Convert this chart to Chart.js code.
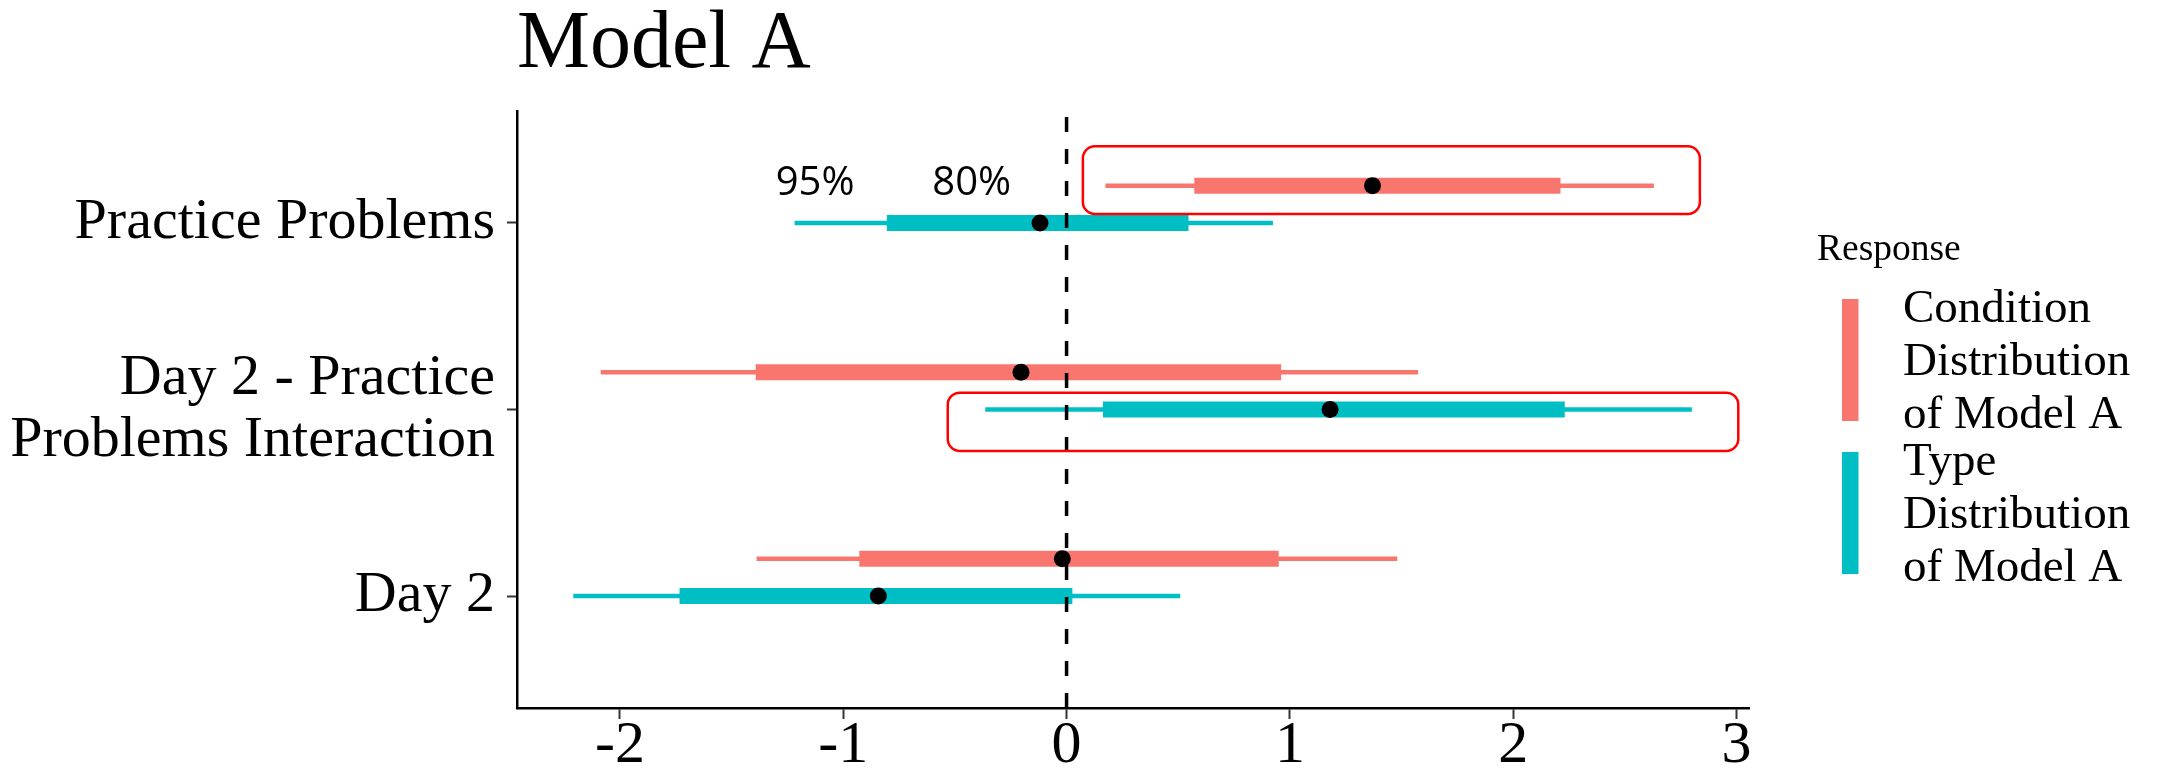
<!DOCTYPE html>
<html><head><meta charset="utf-8">
<script src="https://cdn.jsdelivr.net/npm/chart.js@4.4.0/dist/chart.umd.min.js"></script>
<style>html,body{margin:0;padding:0;background:#fff}canvas{display:block}</style>
</head><body>
<canvas id="c" width="2172" height="771"></canvas>
<script>
// ---------- data ----------
const chartTitle = 'Model A';
const categories = ['Practice Problems', 'Day 2 - Practice Problems Interaction', 'Day 2'];
const categoryLabels = [['Practice Problems'], ['Day 2 - Practice', 'Problems Interaction'], ['Day 2']];
const xTicks = [-2, -1, 0, 1, 2, 3];

const condEst  = [1.37, -0.204, -0.019];
const condLo95 = [0.174, -2.086, -1.388];
const condHi95 = [2.63, 1.574, 1.481];
const condLo80 = [0.572, -1.392, -0.928];
const condHi80 = [2.212, 0.961, 0.950];

const typeEst  = [-0.119, 1.18, -0.843];
const typeLo95 = [-1.218, -0.364, -2.209];
const typeHi95 = [0.924, 2.80, 0.509];
const typeLo80 = [-0.805, 0.163, -1.733];
const typeHi80 = [0.546, 2.231, 0.026];

const legendTitle = 'Response';
const seriesNames = [['Condition', 'Distribution', 'of Model A'], ['Type', 'Distribution', 'of Model A']];
const intervalLabels = ['95%', '80%'];
const intervalLabelX = [-1.126, -0.425];
const intervalLabelY = 3.152;
const highlightX0 = [0.073, -0.532];
const highlightX1 = [2.836, 3.008];
const highlightY0 = [3.048, 1.778];
const highlightY1 = [3.411, 2.09];

// ---------- styling ----------
const COLORS = ['#F8766D', '#00BFC4'];
const DODGE = [0.2, 0];
const SERIF = '"Liberation Serif", "Times New Roman", serif';

const series = [
  {est: condEst, lo95: condLo95, hi95: condHi95, lo80: condLo80, hi80: condHi80},
  {est: typeEst, lo95: typeLo95, hi95: typeHi95, lo80: typeLo80, hi80: typeHi80}
];
const yPos = i => categories.length - i;

const datasets = [];
series.forEach((s, si) => {
  categories.forEach((c, ci) => {
    const y = yPos(ci) + DODGE[si];
    datasets.push({type: 'scatter', showLine: true, order: 4,
      data: [{x: s.lo95[ci], y}, {x: s.hi95[ci], y}],
      borderColor: COLORS[si], borderWidth: 4.5, borderCapStyle: 'butt', pointRadius: 0});
    datasets.push({type: 'scatter', showLine: true, order: 3,
      data: [{x: s.lo80[ci], y}, {x: s.hi80[ci], y}],
      borderColor: COLORS[si], borderWidth: 16, borderCapStyle: 'butt', pointRadius: 0});
  });
});
// reference line at zero
datasets.push({type: 'scatter', showLine: true, order: 2,
  data: [{x: 0, y: 0.4}, {x: 0, y: 3.6}],
  borderColor: '#000', borderWidth: 3.5, borderDash: [15, 17], borderCapStyle: 'butt', pointRadius: 0});
// point estimates
series.forEach((s, si) => {
  datasets.push({type: 'scatter', order: 1,
    data: categories.map((c, ci) => ({x: s.est[ci], y: yPos(ci) + DODGE[si]})),
    backgroundColor: '#000', borderWidth: 0, pointRadius: 8.5, pointHoverRadius: 8.5});
});

function rrect(ctx, x, y, w, h, r) {
  ctx.beginPath();
  ctx.moveTo(x + r, y);
  ctx.arcTo(x + w, y, x + w, y + h, r);
  ctx.arcTo(x + w, y + h, x, y + h, r);
  ctx.arcTo(x, y + h, x, y, r);
  ctx.arcTo(x, y, x + w, y, r);
  ctx.closePath();
}

const decor = {
  id: 'decor',
  afterDatasetsDraw(chart) {
    const {ctx, scales: {x, y}} = chart;
    ctx.save();
    // highlight boxes
    ctx.strokeStyle = '#FF0000';
    ctx.lineWidth = 2.5;
    for (let i = 0; i < highlightX0.length; i++) {
      const px0 = x.getPixelForValue(highlightX0[i]);
      const px1 = x.getPixelForValue(highlightX1[i]);
      const py0 = y.getPixelForValue(highlightY1[i]);
      const py1 = y.getPixelForValue(highlightY0[i]);
      rrect(ctx, px0, py0, px1 - px0, py1 - py0, 12);
      ctx.stroke();
    }
    // interval labels
    ctx.fillStyle = '#000';
    ctx.font = '40px "Open Sans", sans-serif';
    ctx.textAlign = 'center';
    ctx.textBaseline = 'alphabetic';
    intervalLabels.forEach((t, i) => {
      ctx.fillText(t, x.getPixelForValue(intervalLabelX[i]), y.getPixelForValue(intervalLabelY));
    });
    ctx.restore();
  },
  afterDraw(chart) {
    const {ctx, chartArea} = chart;
    ctx.save();
    ctx.fillStyle = '#000';
    ctx.textAlign = 'left';
    ctx.textBaseline = 'alphabetic';
    ctx.font = '82px ' + SERIF;
    ctx.fillText(chartTitle, chartArea.left, 67);
    // legend
    ctx.font = '37.5px ' + SERIF;
    ctx.fillText(legendTitle, 1817, 260);
    ctx.font = '47px ' + SERIF;
    const keyTop = [299, 452];
    seriesNames.forEach((lines, si) => {
      ctx.fillStyle = COLORS[si];
      ctx.fillRect(1842, keyTop[si], 16.5, 122);
      ctx.fillStyle = '#000';
      const cy = keyTop[si] + 61;
      lines.forEach((ln, li) => {
        ctx.fillText(ln, 1903, cy - 38.5 + li * 53.3);
      });
    });
    ctx.restore();
  }
};

new Chart(document.getElementById('c'), {
  type: 'scatter',
  data: {datasets},
  plugins: [decor],
  options: {
    responsive: false,
    devicePixelRatio: 1,
    animation: false,
    events: [],
    layout: {padding: {top: 111, right: 423, left: 0, bottom: 0}},
    plugins: {legend: {display: false}, tooltip: {enabled: false}, title: {display: false}},
    scales: {
      x: {
        type: 'linear', min: -2.461, max: 3.056,
        afterBuildTicks: s => { s.ticks = xTicks.map(v => ({value: v})); },
        afterFit: s => { s.height = 63; },
        grid: {display: true, drawOnChartArea: false, drawTicks: true, tickLength: 11, tickWidth: 2, tickColor: '#333'},
        border: {display: true, color: '#000', width: 2.5},
        ticks: {color: '#000', font: {family: SERIF, size: 60}, padding: -9, maxRotation: 0,
          callback: v => String(v)}
      },
      y: {
        type: 'linear', min: 0.4, max: 3.6,
        afterBuildTicks: s => { s.ticks = categories.map((c, i) => ({value: yPos(i)})); },
        afterFit: s => { s.width = 517; },
        grid: {display: true, drawOnChartArea: false, drawTicks: true, tickLength: 10, tickWidth: 2, tickColor: '#333'},
        border: {display: true, color: '#000', width: 2.5},
        ticks: {color: '#000', font: {family: SERIF, size: 58, lineHeight: 1.063}, padding: 12,
          callback: v => categoryLabels[categories.length - Math.round(v)]}
      }
    }
  }
});
</script>
</body></html>
